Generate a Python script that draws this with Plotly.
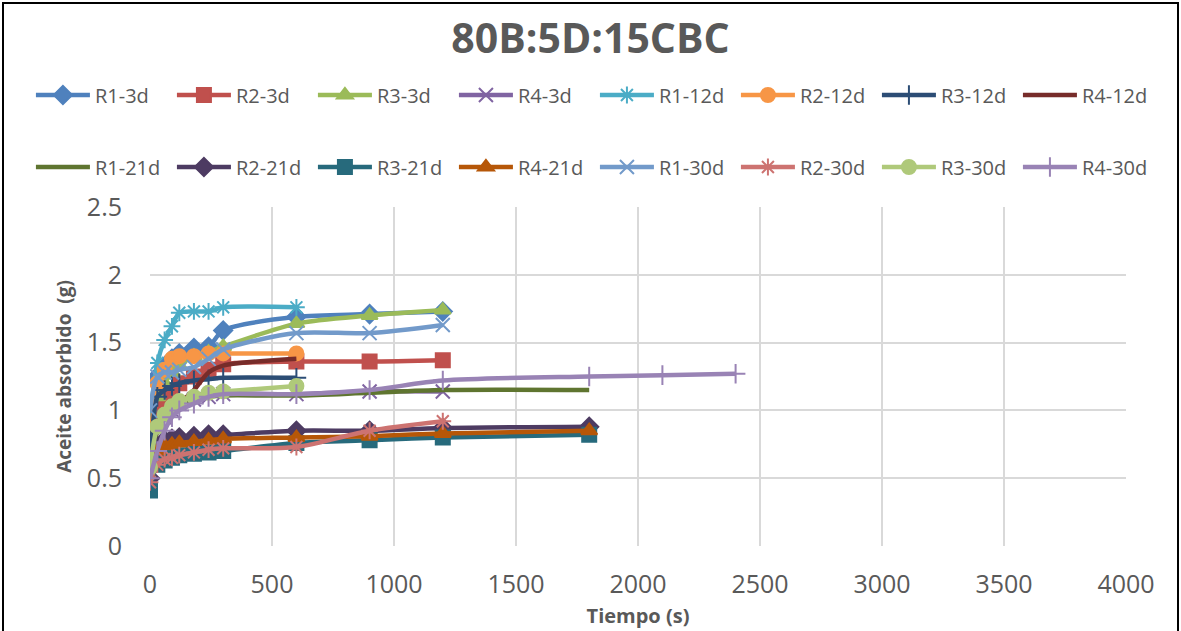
import plotly.graph_objects as go

# Tiempos (s)
t_3d = [0, 30, 60, 90, 120, 180, 240, 300, 600, 900, 1200]
t_12d = [0, 30, 60, 90, 120, 180, 240, 300, 600]
t_21d = [0, 30, 60, 90, 120, 180, 240, 300, 600, 900, 1200, 1800]
t_30d = [0, 30, 60, 90, 120, 180, 240, 300, 600, 900, 1200]
t_r3_30d = [0, 30, 60, 90, 120, 180, 240, 300, 600]
t_r4_30d = [0, 30, 60, 90, 120, 180, 240, 300, 600, 900, 1200, 1800, 2100, 2400]

# Aceite absorbido (g)
r1_3d = [0.95, 1.25, 1.32, 1.38, 1.42, 1.46, 1.47, 1.59, 1.69, 1.71, 1.73]
r2_3d = [0.76, 1.00, 1.10, 1.15, 1.20, 1.25, 1.30, 1.34, 1.36, 1.36, 1.37]
r3_3d = [0.80, 1.10, 1.20, 1.28, 1.33, 1.40, 1.43, 1.47, 1.64, 1.70, 1.74]
r4_3d = [0.62, 0.85, 0.95, 1.00, 1.05, 1.08, 1.10, 1.12, 1.12, 1.14, 1.14]

r1_12d = [0.95, 1.35, 1.52, 1.62, 1.72, 1.73, 1.73, 1.76, 1.76]
r2_12d = [0.72, 1.20, 1.30, 1.38, 1.40, 1.40, 1.42, 1.42, 1.42]
r3_12d = [0.50, 1.10, 1.15, 1.18, 1.20, 1.22, 1.23, 1.24, 1.24]
r4_12d = [0.60, 0.85, 0.95, 1.00, 1.05, 1.15, 1.28, 1.33, 1.38]

r1_21d = [0.60, 0.85, 0.95, 1.00, 1.04, 1.08, 1.10, 1.11, 1.11, 1.13, 1.15, 1.15]
r2_21d = [0.50, 0.70, 0.78, 0.79, 0.80, 0.81, 0.82, 0.82, 0.85, 0.85, 0.87, 0.88]
r3_21d = [0.41, 0.60, 0.63, 0.65, 0.67, 0.68, 0.69, 0.70, 0.76, 0.78, 0.80, 0.82]
r4_21d = [0.60, 0.70, 0.74, 0.75, 0.76, 0.77, 0.78, 0.79, 0.80, 0.81, 0.83, 0.85]

r1_30d = [1.00, 1.25, 1.28, 1.28, 1.30, 1.32, 1.38, 1.45, 1.57, 1.57, 1.63]
r2_30d = [0.47, 0.60, 0.64, 0.65, 0.67, 0.69, 0.71, 0.72, 0.73, 0.85, 0.92]
r3_30d = [0.58, 0.88, 0.97, 1.03, 1.07, 1.10, 1.13, 1.14, 1.18]
r4_30d = [0.50, 0.70, 0.85, 0.95, 1.00, 1.05, 1.10, 1.12, 1.12, 1.15, 1.22, 1.25, 1.26, 1.27]

# (nombre, tiempos, valores, color, simbolo)
series = [
    ("R1-3d", t_3d, r1_3d, "#4F81BD", "diamond"),
    ("R2-3d", t_3d, r2_3d, "#C0504D", "square"),
    ("R3-3d", t_3d, r3_3d, "#9BBB59", "triangle-up"),
    ("R4-3d", t_3d, r4_3d, "#8064A2", "x-thin-open"),
    ("R1-12d", t_12d, r1_12d, "#4BACC6", "asterisk-open"),
    ("R2-12d", t_12d, r2_12d, "#F79646", "circle"),
    ("R3-12d", t_12d, r3_12d, "#2C4D75", "cross-thin-open"),
    ("R4-12d", t_12d, r4_12d, "#772C2A", None),
    ("R1-21d", t_21d, r1_21d, "#5F7530", None),
    ("R2-21d", t_21d, r2_21d, "#4D3B62", "diamond"),
    ("R3-21d", t_21d, r3_21d, "#276A7C", "square"),
    ("R4-21d", t_21d, r4_21d, "#B65708", "triangle-up"),
    ("R1-30d", t_30d, r1_30d, "#729ACA", "x-thin-open"),
    ("R2-30d", t_30d, r2_30d, "#CD7371", "asterisk-open"),
    ("R3-30d", t_r3_30d, r3_30d, "#AFC97A", "circle"),
    ("R4-30d", t_r4_30d, r4_30d, "#9983B5", "cross-thin-open"),
]

GRAY = "#595959"
FONT = "Open Sans"

fig = go.Figure()
for i, (name, t, v, color, sym) in enumerate(series):
    if sym is None:
        mode = "lines"
        marker = dict()
    else:
        mode = "lines+markers"
        marker = dict(symbol=sym, size=14, color=color,
                      line=dict(color=color, width=2))
    fig.add_trace(go.Scatter(
        x=t, y=v, name=name, mode=mode,
        line=dict(color=color, width=4.5, shape="spline", smoothing=0.8),
        marker=marker,
        legend="legend" if i < 8 else "legend2",
    ))

legend_common = dict(
    orientation="h", xanchor="left", yanchor="middle", x=-0.122,
    entrywidth=72, entrywidthmode="pixels", itemwidth=54,
    font=dict(family=FONT, size=20, color=GRAY),
    bgcolor="rgba(0,0,0,0)",
)

fig.update_layout(
    width=1181, height=631,
    paper_bgcolor="white", plot_bgcolor="white",
    margin=dict(l=150, r=55, t=207, b=85, autoexpand=False),
    title=dict(text="<b>80B:5D:15CBC</b>", x=0.5, xanchor="center",
               y=1 - 39 / 631, yanchor="middle",
               font=dict(family=FONT, size=41, color=GRAY)),
    legend=dict(y=(546 - 95) / 339, **legend_common),
    legend2=dict(y=(546 - 167) / 339, **legend_common),
    xaxis=dict(range=[0, 4000], dtick=500, showgrid=True, gridcolor="#D9D9D9",
               gridwidth=2, zeroline=False, showline=False, ticks="",
               ticklabelstandoff=21,
               tickfont=dict(family=FONT, size=25, color=GRAY),
               title=dict(text="<b>Tiempo (s)</b>", standoff=9,
                          font=dict(family=FONT, size=20, color=GRAY))),
    yaxis=dict(range=[0, 2.5], dtick=0.5, showgrid=True, gridcolor="#D9D9D9",
               gridwidth=2, zeroline=False, showline=False, ticks="",
               ticklabelstandoff=27,
               tickfont=dict(family=FONT, size=25, color=GRAY),
               title=dict(text="<b>Aceite absorbido  (g)</b>", standoff=10,
                          font=dict(family=FONT, size=19, color=GRAY))),
    showlegend=True,
)

# marco del grafico
fig.add_shape(type="rect", xref="paper", yref="paper",
              x0=(3 - 150) / 976, x1=(1178 - 150) / 976,
              y0=(546 - 650) / 339, y1=(546 - 3) / 339,
              line=dict(color="black", width=2), fillcolor="rgba(0,0,0,0)",
              layer="below")

# quitar el margen del body para que el grafico empiece en (0, 0)
fig.write_html("out.html", config={"displayModeBar": False},
               post_script="document.body.style.margin='0px';")
